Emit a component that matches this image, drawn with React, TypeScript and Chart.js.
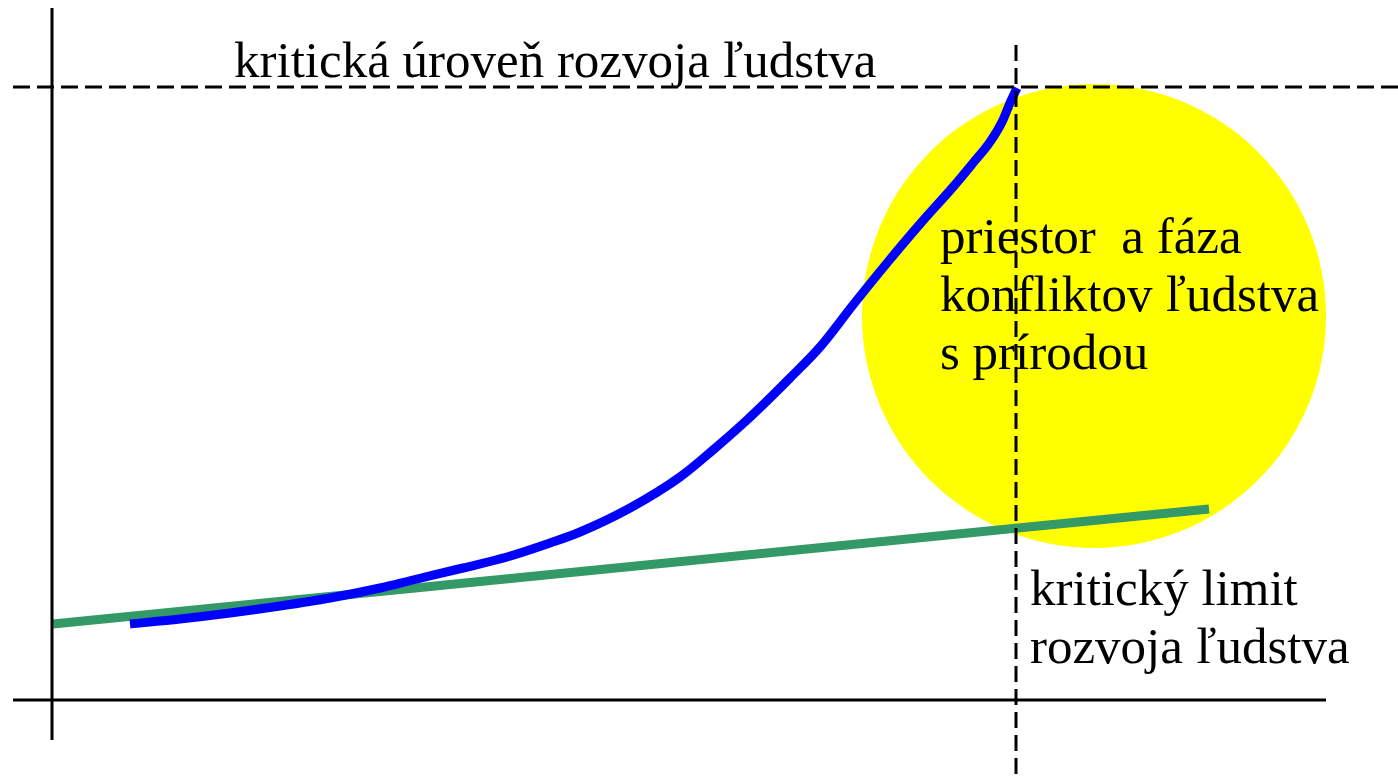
import React, { useEffect, useRef } from "react";
import { Chart, registerables } from "chart.js";

Chart.register(...registerables);

// Coordinates: x = distance to the right of the vertical axis, y = height above the horizontal axis
const blueX = [78, 128, 178, 228, 278, 328, 361, 411, 455, 498, 528, 578, 628, 661, 695, 721, 738, 768, 801, 835, 868, 901, 921, 938, 950, 958, 965];
const blueY = [76, 81, 87, 94, 102, 112, 120, 132, 143, 157, 168, 192, 223, 250, 280, 305, 322, 353, 395, 437, 476, 513, 537, 558, 578, 597, 612];

const greenX = [1, 1157];
const greenY = [76, 191];

const criticalLevelY = 613;
const criticalLevelX = [-39, 1346];
const criticalLimitX = 964;
const criticalLimitY = [655, -77];

const yAxisX = [0, 0];
const yAxisY = [692, -40];
const xAxisX = [-39, 1274];
const xAxisY = [0, 0];

const circleCenter = { x: 1042, y: 384 };
const circleRadius = 232;

const labelTop = ["kritická úroveň rozvoja ľudstva"];
const labelTopPos = { x: 182, y: 623 };
const labelCircle = ["priestor  a fáza", "konfliktov ľudstva", "s prírodou"];
const labelCirclePos = { x: 888, y: 447 };
const labelLimit = ["kritický limit", "rozvoja ľudstva"];
const labelLimitPos = { x: 978, y: 95 };

const zip = (xs: number[], ys: number[]) => xs.map((x, i) => ({ x, y: ys[i] }));

const textPlugin = {
  id: "diagramText",
  afterDatasetsDraw(chart: any) {
    const { ctx, scales } = chart;
    const xs = scales.x;
    const ys = scales.y;
    ctx.save();
    ctx.fillStyle = "#000";
    ctx.font = "51px 'Liberation Serif', 'Times New Roman', serif";
    ctx.textBaseline = "alphabetic";
    ctx.textAlign = "left";
    const drawBlock = (lines: string[], pos: { x: number; y: number }) => {
      const px = xs.getPixelForValue(pos.x);
      const py = ys.getPixelForValue(pos.y);
      lines.forEach((line, i) => ctx.fillText(line, px, py + i * 58));
    };
    drawBlock(labelTop, labelTopPos);
    drawBlock(labelCircle, labelCirclePos);
    drawBlock(labelLimit, labelLimitPos);
    ctx.restore();
  },
};

export default function App() {
  const ref = useRef<HTMLCanvasElement | null>(null);
  useEffect(() => {
    if (!ref.current) return;
    const lineBase = { pointRadius: 0, fill: false, clip: false as any, tension: 0 };
    const chart = new Chart(ref.current, {
      type: "line",
      data: {
        datasets: [
          {
            ...lineBase,
            label: "y-axis",
            data: zip(yAxisX, yAxisY),
            borderColor: "#000",
            borderWidth: 3,
            order: 1,
          },
          {
            ...lineBase,
            label: "x-axis",
            data: zip(xAxisX, xAxisY),
            borderColor: "#000",
            borderWidth: 3,
            order: 1,
          },
          {
            ...lineBase,
            label: "kritická úroveň",
            data: zip(criticalLevelX, [criticalLevelY, criticalLevelY]),
            borderColor: "#000",
            borderWidth: 3,
            borderDash: [17, 7],
            order: 2,
          },
          {
            ...lineBase,
            label: "kritický limit",
            data: zip([criticalLimitX, criticalLimitX], criticalLimitY),
            borderColor: "#000",
            borderWidth: 3,
            borderDash: [16, 7],
            order: 2,
          },
          {
            ...lineBase,
            label: "rozvoj ľudstva",
            data: zip(blueX, blueY),
            borderColor: "#0000FF",
            borderWidth: 9,
            cubicInterpolationMode: "monotone",
            borderCapStyle: "butt",
            order: 4,
          },
          {
            ...lineBase,
            label: "limit",
            data: zip(greenX, greenY),
            borderColor: "#339966",
            borderWidth: 9,
            order: 5,
          },
          {
            type: "bubble",
            label: "konflikt",
            data: [{ x: circleCenter.x, y: circleCenter.y, r: circleRadius }],
            backgroundColor: "#FFFF00",
            borderWidth: 0,
            hoverRadius: 0,
            clip: false as any,
            order: 10,
          } as any,
        ],
      },
      options: {
        animation: false,
        responsive: false,
        devicePixelRatio: 1,
        events: [],
        layout: { padding: 0, autoPadding: false } as any,
        scales: {
          x: { type: "linear", min: -52, max: 1346, display: false },
          y: { type: "linear", min: -77, max: 700, display: false },
        },
        plugins: {
          legend: { display: false },
          tooltip: { enabled: false },
          title: { display: false },
        },
      },
      plugins: [textPlugin],
    });
    return () => chart.destroy();
  }, []);
  return (
    <div style={{ position: "fixed", left: 0, top: 0, width: 1398, height: 777, background: "#fff" }}>
      <canvas ref={ref} width={1398} height={777} style={{ width: 1398, height: 777 }} />
    </div>
  );
}
